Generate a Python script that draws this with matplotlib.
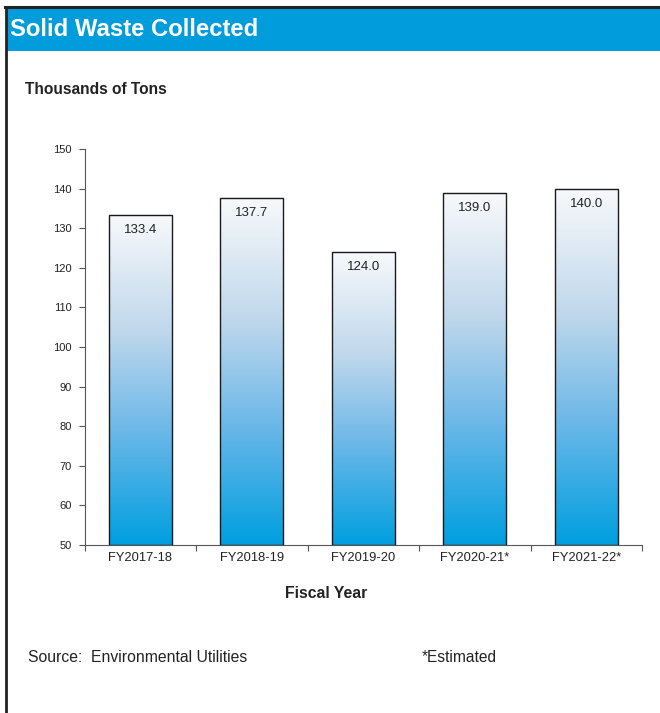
import numpy as np
import matplotlib.pyplot as plt
from matplotlib.colors import LinearSegmentedColormap
from matplotlib.patches import Rectangle

plt.rcParams['font.family'] = ['Liberation Sans', 'DejaVu Sans']

# data
years = ['FY2017-18', 'FY2018-19', 'FY2019-20', 'FY2020-21*', 'FY2021-22*']
tons = [133.4, 137.7, 124.0, 139.0, 140.0]
y_ticks = [50, 60, 70, 80, 90, 100, 110, 120, 130, 140, 150]

fig = plt.figure(figsize=(6.6, 7.13), dpi=100)

# outer frame lines (top and left) and the blue title band
fig.add_artist(plt.Line2D([5 / 660, 1], [1 - 7 / 713, 1 - 7 / 713], color='#222222', lw=2.2))
fig.add_artist(plt.Line2D([6 / 660, 6 / 660], [0, 1 - 7 / 713], color='#222222', lw=2.0))
fig.add_artist(Rectangle((7 / 660, 1 - 51 / 713), 1, 43 / 713, transform=fig.transFigure,
                         color='#009cdc', lw=0))
fig.text(10 / 660, 1 - 30 / 713, 'Solid Waste Collected', color='white', fontsize=17.2,
         fontweight='bold', va='center', ha='left')
fig.text(25 / 660, 1 - 89 / 713, 'Thousands of Tons', fontsize=11.2, fontweight='bold',
         va='center', ha='left', color='#222222')

ax = fig.add_axes([84.5 / 660, 1 - 545 / 713, (642 - 84.5) / 660, (545 - 149) / 713])

cmap = LinearSegmentedColormap.from_list('fade', [
    (0.0, '#009fe0'), (0.35, '#6db8e8'), (0.65, '#c0d8ec'), (1.0, '#f8f9fb')])
grad = np.linspace(0, 1, 256).reshape(-1, 1)

x = np.arange(len(years))
width = 0.565
for xi, v in zip(x, tons):
    ax.imshow(grad, cmap=cmap, origin='lower', aspect='auto',
              extent=(xi - width / 2, xi + width / 2, 50, v), zorder=2)
    ax.add_patch(Rectangle((xi - width / 2, 50), width, v - 50, fill=False,
                           edgecolor='#1a1a1a', lw=1.0, zorder=3))
    ax.text(xi, v - 2.4, f'{v:.1f}', ha='center', va='top', fontsize=9.5, color='#222222', zorder=4)

ax.set_xlim(-0.5, len(years) - 0.5)
ax.set_ylim(50, 150)
ax.set_yticks(y_ticks)
ax.set_yticklabels([str(t) for t in y_ticks], fontsize=8, color='#222222')
ax.set_xticks(x)
ax.set_xticklabels(years, fontsize=9.3, color='#222222')
ax.tick_params(axis='x', length=0, pad=5)
ax.tick_params(axis='y', length=4, width=0.8, color='#555555', pad=5)
ax.set_xticks(np.arange(len(years) + 1) - 0.5, minor=True)
ax.tick_params(axis='x', which='minor', length=4, width=0.8, color='#555555')
for s in ['top', 'right']:
    ax.spines[s].set_visible(False)
for s in ['left', 'bottom']:
    ax.spines[s].set_color('#555555')
    ax.spines[s].set_linewidth(0.8)

fig.text(326 / 660, 1 - 593 / 713, 'Fiscal Year', fontsize=11.3, fontweight='bold',
         ha='center', va='center', color='#222222')
fig.text(28 / 660, 1 - 657 / 713, 'Source:  Environmental Utilities', fontsize=11.3,
         ha='left', va='center', color='#222222')
fig.text(422 / 660, 1 - 657 / 713, '*Estimated', fontsize=11.2, ha='left', va='center',
         color='#222222')

fig.savefig('out.png', dpi=100)
